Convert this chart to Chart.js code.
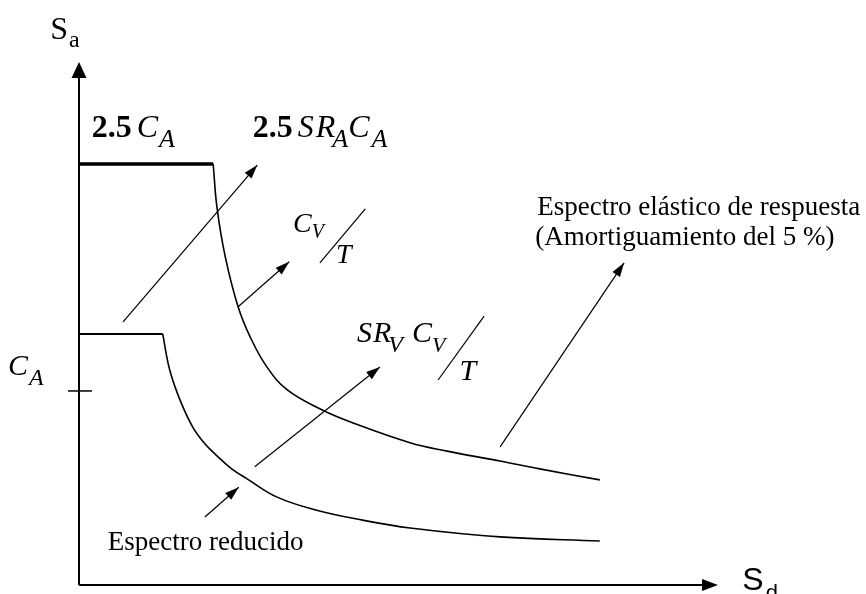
<!DOCTYPE html>
<html>
<head>
<meta charset="utf-8">
<title>Espectro de capacidad</title>
<script src="https://cdn.jsdelivr.net/npm/chart.js@4"></script>
<style>
  html, body { margin: 0; padding: 0; background: #fff; }
  #wrap { width: 866px; height: 594px; }
</style>
</head>
<body>
<div id="wrap"><canvas id="spectrum" width="866" height="594"></canvas></div>
<script>
// Espectro elastico (5 %) y espectro reducido en formato Sa - Sd
// (unidades arbitrarias, 0..10 en ambos ejes)
var elasticSd = [0, 2.10, 2.16, 2.29, 2.49, 2.68, 2.94, 3.26, 3.80, 4.24, 5.18, 5.76, 6.59, 7.21, 8.15];
var elasticSa = [8.05, 8.05, 7.21, 6.27, 5.32, 4.74, 4.17, 3.73, 3.35, 3.12, 2.72, 2.56, 2.37, 2.22, 2.01];
var reducedSd = [0, 1.31, 1.42, 1.58, 1.78, 1.97, 2.16, 2.39, 2.63, 3.10, 3.72, 4.44, 5.18, 6.59, 8.15];
var reducedSa = [4.80, 4.80, 4.11, 3.54, 3.02, 2.70, 2.47, 2.22, 2.03, 1.68, 1.43, 1.24, 1.09, 0.92, 0.84];

// marca de C_A sobre el eje Sa
var caTick = 3.71;

// flechas indicadoras [sd0, sa0, sd1, sa1]
var leaderArrows = [
  [0.69, 5.03, 2.79, 8.03],
  [2.49, 5.32, 3.29, 6.18],
  [2.75, 2.26, 4.71, 4.17],
  [6.59, 2.64, 8.53, 6.16],
  [1.97, 1.30, 2.50, 1.87]
];
// barras de fraccion ( /T )
var fractionBars = [
  [3.77, 6.16, 4.48, 7.19],
  [5.62, 3.92, 6.34, 5.14]
];

var ink = '#000';
var serif = '"Liberation Serif", "Times New Roman", serif';
function it(size) { return 'italic ' + size + 'px ' + serif; }
function bd(size) { return 'bold ' + size + 'px ' + serif; }
function rm(size) { return size + 'px ' + serif; }

// textos: posicion (sd, sa) de la linea base y tramos con su fuente
var labels = [
  { x: 0.20, y: 8.57, runs: [
    { t: '2.5', font: bd(32) }, { t: 'C', font: it(32), dx: 5 }, { t: 'A', font: it(26), dx: 1, dy: 10 }] },
  { x: 2.72, y: 8.57, runs: [
    { t: '2.5', font: bd(32) }, { t: 'S', font: it(32), dx: 5 }, { t: 'R', font: it(32), dx: 2 },
    { t: 'A', font: it(26), dx: -3, dy: 10 }, { t: 'C', font: it(32) }, { t: 'A', font: it(26), dx: 2, dy: 10 }] },
  { x: 3.35, y: 6.75, runs: [
    { t: 'C', font: it(28) }, { t: 'V', font: it(20), dy: 6 }, { t: 'T', font: it(28), dx: 12, dy: 31 }] },
  { x: 4.35, y: 4.65, runs: [
    { t: 'S', font: it(30) }, { t: 'R', font: it(30), dx: 1 }, { t: 'V', font: it(24), dx: -3, dy: 10 },
    { t: 'C', font: it(30), dx: 9 }, { t: 'V', font: it(22), dy: 10 }, { t: 'T', font: it(30), dx: 14, dy: 38 }] },
  { x: 7.17, y: 7.08, runs: [{ t: 'Espectro elástico de respuesta', font: rm(27) }] },
  { x: 7.14, y: 6.50, runs: [{ t: '(Amortiguamiento del 5 %)', font: rm(27) }] },
  { x: 0.45, y: 0.67, runs: [{ t: 'Espectro reducido', font: rm(27) }] },
  { x: -1.11, y: 4.02, runs: [{ t: 'C', font: it(30) }, { t: 'A', font: it(24), dx: 1, dy: 10 }] },
  { x: -0.45, y: 10.44, runs: [{ t: 'S', font: rm(32) }, { t: 'a', font: rm(24), dx: 1, dy: 8 }] },
  { x: 10.38, y: -0.10, runs: [
    { t: 'S', font: '32px "Liberation Sans", Arial, sans-serif' },
    { t: 'd', font: '22px "Liberation Sans", Arial, sans-serif', dx: 2, dy: 10 }] }
];

function points(xs, ys, from, to) {
  var out = [];
  for (var i = from; i < to; i++) {
    out.push({ x: xs[i], y: ys[i] });
  }
  return out;
}

function arrowHead(ctx, x0, y0, x1, y1, len, half) {
  var a = Math.atan2(y1 - y0, x1 - x0);
  ctx.beginPath();
  ctx.moveTo(x1, y1);
  ctx.lineTo(x1 - len * Math.cos(a) + half * Math.sin(a), y1 - len * Math.sin(a) - half * Math.cos(a));
  ctx.lineTo(x1 - len * Math.cos(a) - half * Math.sin(a), y1 - len * Math.sin(a) + half * Math.cos(a));
  ctx.closePath();
  ctx.fill();
}

var sketchPlugin = {
  id: 'sketch',
  afterDraw: function (chart) {
    var ctx = chart.ctx;
    var xs = chart.scales.x, ys = chart.scales.y;
    var ox = xs.getPixelForValue(0), oy = ys.getPixelForValue(0);
    var xEnd = xs.getPixelForValue(10), yEnd = ys.getPixelForValue(10);
    ctx.save();
    ctx.strokeStyle = ink;
    ctx.fillStyle = ink;
    ctx.lineCap = 'butt';

    // ejes con flecha
    ctx.lineWidth = 2;
    ctx.beginPath();
    ctx.moveTo(ox, oy);
    ctx.lineTo(ox, yEnd + 10);
    ctx.moveTo(ox, oy);
    ctx.lineTo(xEnd - 10, oy);
    ctx.stroke();
    arrowHead(ctx, ox, oy, ox, yEnd, 16, 7.5);
    arrowHead(ctx, ox, oy, xEnd, oy, 16, 6);

    // marca C_A
    var ty = ys.getPixelForValue(caTick);
    ctx.lineWidth = 1.5;
    ctx.beginPath();
    ctx.moveTo(ox - 11, ty);
    ctx.lineTo(ox + 13, ty);
    ctx.stroke();

    // flechas indicadoras
    ctx.lineWidth = 1.2;
    leaderArrows.forEach(function (a) {
      var x0 = xs.getPixelForValue(a[0]), y0 = ys.getPixelForValue(a[1]);
      var x1 = xs.getPixelForValue(a[2]), y1 = ys.getPixelForValue(a[3]);
      ctx.beginPath();
      ctx.moveTo(x0, y0);
      ctx.lineTo(x1, y1);
      ctx.stroke();
      arrowHead(ctx, x0, y0, x1, y1, 14, 4.5);
    });

    fractionBars.forEach(function (b) {
      ctx.beginPath();
      ctx.moveTo(xs.getPixelForValue(b[0]), ys.getPixelForValue(b[1]));
      ctx.lineTo(xs.getPixelForValue(b[2]), ys.getPixelForValue(b[3]));
      ctx.stroke();
    });

    // textos
    ctx.textBaseline = 'alphabetic';
    ctx.textAlign = 'left';
    labels.forEach(function (l) {
      var x = xs.getPixelForValue(l.x), y = ys.getPixelForValue(l.y);
      l.runs.forEach(function (r) {
        ctx.font = r.font;
        x += r.dx || 0;
        ctx.fillText(r.t, x, y + (r.dy || 0));
        x += ctx.measureText(r.t).width;
      });
    });
    ctx.restore();
  }
};

function line(data, width, smooth) {
  return {
    data: data,
    showLine: true,
    borderColor: ink,
    borderWidth: width,
    pointRadius: 0,
    fill: false,
    tension: smooth ? 0.4 : 0
  };
}

var ctx = document.getElementById('spectrum').getContext('2d');
var spectrumChart = new Chart(ctx, {
  type: 'scatter',
  data: {
    datasets: [
      line(points(elasticSd, elasticSa, 0, 2), 3.5, false),
      line(points(elasticSd, elasticSa, 1, elasticSd.length), 1.6, true),
      line(points(reducedSd, reducedSa, 0, 2), 2, false),
      line(points(reducedSd, reducedSa, 1, reducedSd.length), 1.6, true)
    ]
  },
  options: {
    responsive: false,
    animation: false,
    layout: { padding: { left: 79, right: 148, top: 62, bottom: 9 } },
    plugins: {
      legend: { display: false },
      tooltip: { enabled: false }
    },
    scales: {
      x: { type: 'linear', min: 0, max: 10, display: false },
      y: { type: 'linear', min: 0, max: 10, display: false }
    }
  },
  plugins: [sketchPlugin]
});
</script>
</body>
</html>
